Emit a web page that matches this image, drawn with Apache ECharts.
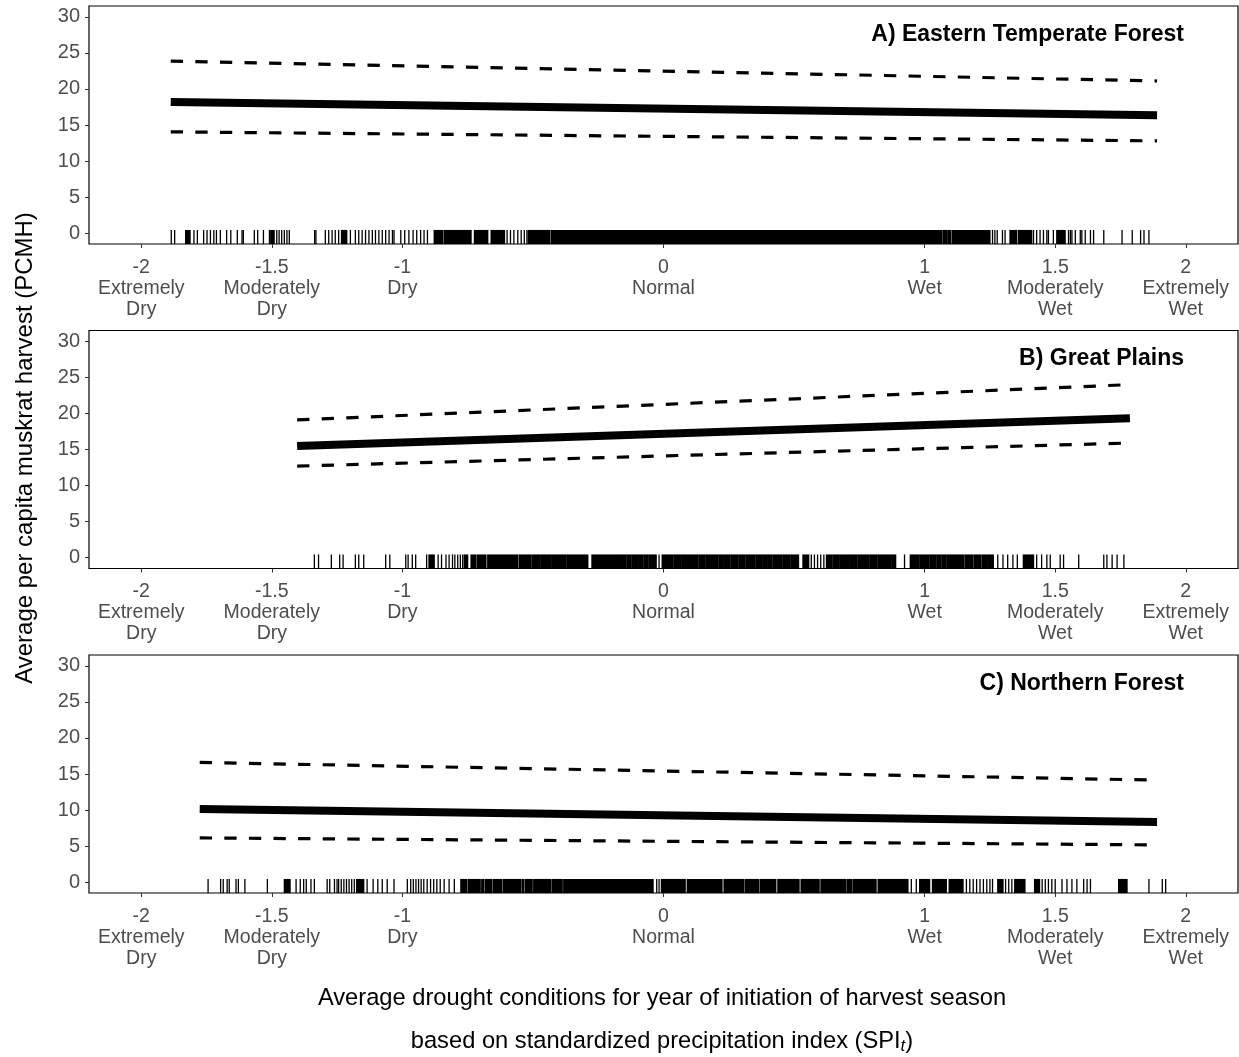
<!DOCTYPE html>
<html><head><meta charset="utf-8">
<script src="https://cdn.jsdelivr.net/npm/echarts@6/dist/echarts.min.js"></script>
<style>html,body{margin:0;padding:0;background:#fff}#c{width:1239px;height:1057px}</style>
</head><body><div id="c"></div>
<script>
// ---- data ----
const xTickValues = [-2, -1.5, -1, 0, 1, 1.5, 2];
const xTickLabels = ['-2\nExtremely\nDry', '-1.5\nModerately\nDry', '-1\nDry', '0\nNormal', '1\nWet', '1.5\nModerately\nWet', '2\nExtremely\nWet'];
const yTickValues = [0, 5, 10, 15, 20, 25, 30];
const panelTitles = ['A) Eastern Temperate Forest', 'B) Great Plains', 'C) Northern Forest'];

// fitted line end points (SPI, PCMH)
const fitXA = [-1.887, 1.890];
const fitA = [18.2, 16.35];
const upperA = [23.85, 21.1];
const lowerA = [14.05, 12.8];

const fitXB = [-1.403, 1.786];
const fitB = [15.5, 19.35];
const upperB = [19.1, 24.0];
const lowerB = [12.7, 15.9];

const fitXC = [-1.776, 1.890];
const fitC = [10.15, 8.35];
const upperC = [16.6, 14.15];
const lowerC = [6.14, 5.17];

// rug: single observations and dense (solid) ranges
const rugTicksA = [-1.885,-1.872,-1.798,-1.785,-1.761,-1.748,-1.735,-1.722,-1.712,-1.697,-1.673,-1.657,-1.632,-1.614,-1.609,-1.567,-1.554,-1.532,-1.509,-1.481,-1.472,-1.462,-1.452,-1.442,-1.433,-1.336,-1.331,-1.295,-1.282,-1.269,-1.257,-1.244,-1.199,-1.180,-1.167,-1.154,-1.141,-1.128,-1.115,-1.103,-1.090,-1.077,-1.064,-1.051,-1.038,-1.032,-1.006,-0.991,-0.975,-0.959,-0.945,-0.930,-0.917,-0.904,-0.599,-0.586,-0.573,-0.558,-0.545,-0.533,-0.523,1.260,1.269,1.278,1.298,1.308,1.417,1.429,1.442,1.455,1.468,1.474,1.493,1.551,1.558,1.564,1.577,1.596,1.602,1.615,1.635,1.647,1.686,1.756,1.795,1.827,1.840,1.859];
const rugSpansA = [[-1.830,-1.813],[-1.504,-1.491],[-1.233,-1.213],[-0.878,-0.846],[-0.840,-0.808],[-0.805,-0.737],[-0.724,-0.673],[-0.660,-0.609],[-0.518,-0.436],[-0.430,1.064],[1.070,1.085],[1.089,1.100],[1.106,1.250],[1.327,1.352],[1.359,1.410],[1.506,1.538]];

const rugTicksB = [-1.337,-1.321,-1.272,-1.240,-1.227,-1.180,-1.167,-1.148,-1.064,-1.048,-0.987,-0.978,-0.962,-0.949,-0.907,-0.863,-0.850,-0.833,-0.821,-0.808,-0.799,-0.788,-0.778,-0.769,-0.017,0.566,0.578,0.590,0.602,0.614,0.923,1.280,1.300,1.318,1.338,1.355,1.429,1.448,1.468,1.481,1.519,1.532,1.590,1.686,1.698,1.718,1.737,1.763];
const rugSpansB = [[-0.898,-0.878],[-0.763,-0.750],[-0.737,-0.718],[-0.712,-0.680],[-0.673,-0.558],[-0.552,-0.507],[-0.502,-0.472],[-0.468,-0.432],[-0.428,-0.406],[-0.402,-0.374],[-0.370,-0.290],[-0.274,-0.169],[-0.165,-0.143],[-0.139,-0.124],[-0.120,-0.099],[-0.095,-0.079],[-0.075,-0.060],[-0.056,-0.028],[-0.005,0.004],[0.008,0.036],[0.040,0.068],[0.072,0.100],[0.104,0.132],[0.136,0.158],[0.162,0.184],[0.188,0.209],[0.213,0.229],[0.233,0.254],[0.258,0.286],[0.290,0.312],[0.316,0.350],[0.354,0.376],[0.380,0.395],[0.399,0.415],[0.419,0.453],[0.457,0.485],[0.489,0.517],[0.534,0.556],[0.624,0.645],[0.649,0.671],[0.675,0.709],[0.713,0.741],[0.745,0.786],[0.790,0.818],[0.822,0.850],[0.854,0.870],[0.874,0.889],[0.945,0.979],[0.983,1.017],[1.021,1.043],[1.047,1.062],[1.066,1.081],[1.085,1.107],[1.111,1.126],[1.130,1.150],[1.155,1.185],[1.190,1.215],[1.220,1.240],[1.245,1.263],[1.378,1.417]];

const rugTicksC = [-1.744,-1.696,-1.686,-1.671,-1.663,-1.637,-1.628,-1.603,-1.517,-1.407,-1.391,-1.378,-1.368,-1.350,-1.337,-1.288,-1.278,-1.260,-1.250,-1.244,-1.234,-1.224,-1.214,-1.204,-1.194,-1.184,-1.135,-1.112,-1.094,-1.077,-1.058,-1.032,-0.981,-0.968,-0.958,-0.948,-0.938,-0.928,-0.918,-0.905,-0.892,-0.880,-0.868,-0.855,-0.840,-0.821,-0.801,-0.026,-0.017,0.949,0.968,1.160,1.173,1.186,1.199,1.212,1.225,1.238,1.250,1.260,1.310,1.322,1.334,1.450,1.462,1.474,1.487,1.500,1.526,1.545,1.564,1.583,1.609,1.622,1.635,1.859,1.910,1.923];
const rugSpansC = [[-1.452,-1.430],[-1.175,-1.148],[-0.776,-0.753],[-0.747,-0.702],[-0.696,-0.689],[-0.683,-0.657],[-0.651,-0.619],[-0.613,-0.548],[-0.542,-0.535],[-0.529,-0.503],[-0.497,-0.433],[-0.427,-0.388],[-0.382,-0.040],[-0.008,0.083],[0.091,0.224],[0.232,0.308],[0.314,0.365],[0.371,0.430],[0.438,0.519],[0.527,0.596],[0.603,0.699],[0.705,0.722],[0.728,0.814],[0.822,0.936],[0.981,1.019],[1.030,1.083],[1.094,1.147],[1.280,1.300],[1.345,1.384],[1.421,1.440],[1.743,1.775]];

// ---- chart ----
const FONT = '"Liberation Sans", Arial, sans-serif';
const GRID_TOPS = [6, 330.5, 655];
const GRID_LEFT = 89, GRID_W = 1149, GRID_H = 238;
const RUG_TOP = 0.45, RUG_BOTTOM = -1.5;

const panels = [
  {fx: fitXA, fit: fitA, up: upperA, lo: lowerA, ticks: rugTicksA, spans: rugSpansA},
  {fx: fitXB, fit: fitB, up: upperB, lo: lowerB, ticks: rugTicksB, spans: rugSpansB},
  {fx: fitXC, fit: fitC, up: upperC, lo: lowerC, ticks: rugTicksC, spans: rugSpansC}
];

const grids = [], xAxes = [], yAxes = [], series = [], graphics = [];
panels.forEach((p, i) => {
  grids.push({left: GRID_LEFT, top: GRID_TOPS[i], width: GRID_W, height: GRID_H,
    show: true, borderColor: '#000', borderWidth: 1.2, backgroundColor: 'transparent',
    containLabel: false, outerBoundsMode: 'none'});
  xAxes.push({type: 'value', gridIndex: i, min: -2.2, max: 2.2, position: 'bottom',
    axisLine: {show: false, onZero: false}, splitLine: {show: false},
    axisTick: {show: true, length: 4, lineStyle: {color: '#333', width: 1}, customValues: xTickValues},
    axisLabel: {show: true, customValues: xTickValues, color: '#4d4d4d', fontSize: 19.5, fontFamily: FONT,
      lineHeight: 21, margin: 13,
      formatter: v => { let k = 0, d = 1e9; xTickValues.forEach((t, j) => { if (Math.abs(t - v) < d) { d = Math.abs(t - v); k = j; } }); return xTickLabels[k]; }}
  });
  yAxes.push({type: 'value', gridIndex: i, min: -1.5, max: 31.5, position: 'left',
    axisLine: {show: false, onZero: false}, splitLine: {show: false},
    axisTick: {show: true, length: 4, lineStyle: {color: '#333', width: 1}, customValues: yTickValues},
    axisLabel: {show: true, customValues: yTickValues, color: '#4d4d4d', fontSize: 20, fontFamily: FONT, margin: 9}
  });
  const mk = arr => p.fx.map((x, j) => [x, arr[j]]);
  series.push({type: 'line', xAxisIndex: i, yAxisIndex: i, data: mk(p.up), symbol: 'none', silent: true,
    lineStyle: {color: '#000', width: 3.2, type: [12.3, 12.3]}});
  series.push({type: 'line', xAxisIndex: i, yAxisIndex: i, data: mk(p.lo), symbol: 'none', silent: true,
    lineStyle: {color: '#000', width: 3.2, type: [12.3, 12.3]}});
  series.push({type: 'line', xAxisIndex: i, yAxisIndex: i, data: mk(p.fit), symbol: 'none', silent: true,
    lineStyle: {color: '#000', width: 8, cap: 'butt'}});
  series.push({type: 'custom', xAxisIndex: i, yAxisIndex: i, silent: true,
    data: p.ticks.map(v => [v, 0]), encode: {x: 0, y: 1},
    renderItem: (params, api) => {
      const a = api.coord([api.value(0), RUG_TOP]);
      const b = api.coord([api.value(0), RUG_BOTTOM]);
      return {type: 'rect', shape: {x: a[0] - 0.65, y: a[1], width: 1.3, height: b[1] - a[1]}, style: {fill: '#000'}};
    }});
  series.push({type: 'custom', xAxisIndex: i, yAxisIndex: i, silent: true,
    data: p.spans.map(s => [s[0], s[1], 0]), encode: {x: [0, 1], y: 2},
    renderItem: (params, api) => {
      const a = api.coord([api.value(0), RUG_TOP]);
      const b = api.coord([api.value(1), RUG_BOTTOM]);
      return {type: 'rect', shape: {x: a[0] - 0.65, y: a[1], width: b[0] - a[0] + 1.3, height: b[1] - a[1]}, style: {fill: '#000'}};
    }});
  graphics.push({type: 'text', x: 1184, y: GRID_TOPS[i] + 28.5, silent: true,
    style: {text: panelTitles[i], fill: '#000', font: 'bold 23px ' + FONT, textAlign: 'right', textVerticalAlign: 'middle'}});
});

graphics.push({type: 'text', x: 25, y: 448, rotation: Math.PI / 2, silent: true,
  style: {text: 'Average per capita muskrat harvest (PCMH)', fill: '#000', font: '24px ' + FONT, textAlign: 'center', textVerticalAlign: 'middle'}});
graphics.push({type: 'text', x: 662, y: 998, silent: true,
  style: {text: 'Average drought conditions for year of initiation of harvest season', fill: '#000', font: '23.7px ' + FONT, textAlign: 'center', textVerticalAlign: 'middle'}});
graphics.push({type: 'text', x: 662, y: 1041, silent: true,
  style: {text: '{a|based on standardized precipitation index (SPI}{s|t}{a|)}', textAlign: 'center', textVerticalAlign: 'middle',
    rich: {a: {fontSize: 23.7, fontFamily: FONT, fill: '#000', color: '#000', lineHeight: 28},
           s: {fontSize: 17, fontFamily: FONT, fontStyle: 'italic', fill: '#000', color: '#000', lineHeight: 28, padding: [10, 0, 0, 0]}}}});

const chart = echarts.init(document.getElementById('c'), null, {renderer: 'canvas'});
chart.setOption({animation: false, grid: grids, xAxis: xAxes, yAxis: yAxes, series: series, graphic: graphics});
</script></body></html>
